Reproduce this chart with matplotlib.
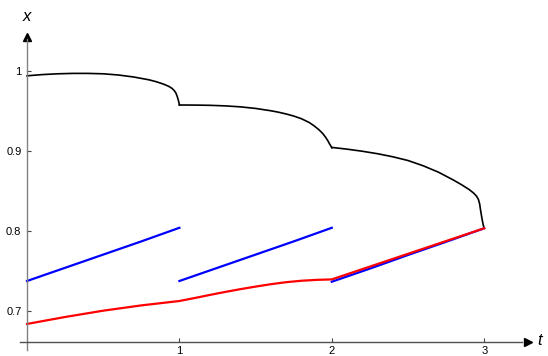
import numpy as np
import matplotlib
matplotlib.use('Agg')
import matplotlib.pyplot as plt

plt.rcParams['font.family'] = ['Liberation Sans', 'DejaVu Sans']

# black curve, three pieces (t, x)
black_t1 = [0.0, 0.1, 0.2, 0.3, 0.4, 0.5, 0.6, 0.7, 0.8, 0.85, 0.9, 0.93, 0.95, 0.965, 0.977, 0.986, 0.993, 0.998, 1.0]
black_x1 = [0.994, 0.9955, 0.9965, 0.997, 0.997, 0.9965, 0.995, 0.9925, 0.989, 0.9865, 0.9833, 0.9808, 0.9785, 0.9758, 0.9725, 0.968, 0.9635, 0.9595, 0.9575]
black_t2 = [1.0, 1.1, 1.2, 1.3, 1.4, 1.5, 1.6, 1.65, 1.7, 1.75, 1.8, 1.85, 1.88, 1.91, 1.94, 1.96, 1.975, 1.985, 1.993, 2.0]
black_x2 = [0.9575, 0.9574, 0.9571, 0.9564, 0.9552, 0.9532, 0.9503, 0.9485, 0.9463, 0.9437, 0.9404, 0.9358, 0.932, 0.9275, 0.922, 0.917, 0.9125, 0.909, 0.9065, 0.904]
black_t3 = [2.0, 2.1, 2.2, 2.3, 2.4, 2.5, 2.6, 2.7, 2.8, 2.85, 2.9, 2.93, 2.95, 2.962, 2.97, 2.977, 2.985, 2.993, 3.0]
black_x3 = [0.9045, 0.9023, 0.8997, 0.8966, 0.8928, 0.8881, 0.8815, 0.8735, 0.8635, 0.858, 0.852, 0.8475, 0.8435, 0.8395, 0.834, 0.825, 0.816, 0.808, 0.8034]

# blue pieces
blue_t1 = [0.0, 0.25, 0.5, 0.75, 1.0]
blue_x1 = [0.7375, 0.754, 0.7705, 0.787, 0.804]
blue_t2 = [1.0, 1.25, 1.5, 1.75, 2.0]
blue_x2 = [0.7375, 0.754, 0.7705, 0.787, 0.804]
blue_t3 = [2.0, 2.25, 2.5, 2.75, 3.0]
blue_x3 = [0.7366, 0.753, 0.770, 0.7865, 0.8034]

# red curve
red_t = [0.0, 0.25, 0.5, 0.75, 1.0, 1.1, 1.2, 1.3, 1.4, 1.5, 1.6, 1.7, 1.8, 1.9, 2.0, 2.5, 3.0]
red_x = [0.6838, 0.6925, 0.7004, 0.707, 0.7125, 0.7162, 0.7201, 0.7238, 0.7273, 0.7305, 0.7335, 0.736, 0.7378, 0.7389, 0.7395, 0.7715, 0.8034]

yticks = [0.7, 0.8, 0.9, 1.0]
ytick_labels = ['0.7', '0.8', '0.9', '1']
xticks = [1, 2, 3]

fig = plt.figure(figsize=(5.48, 3.56), dpi=100)
ax = fig.add_axes([0, 0, 1, 1])
ax.set_xlim(-27/152.4, 521/152.4)
ax.set_ylim(1 - 285/800., 1 + 71/800.)

x_axis_y = 0.66125
ax.spines['top'].set_visible(False)
ax.spines['right'].set_visible(False)
ax.spines['left'].set_position(('data', 0))
ax.spines['bottom'].set_position(('data', x_axis_y))
ax.spines['left'].set_bounds(0.651, 1.04)
ax.spines['bottom'].set_bounds(-0.046, 3.25)
ax.spines['left'].set_color('#808080')
ax.spines['bottom'].set_color('#505050')
ax.spines['left'].set_linewidth(1.0)
ax.spines['bottom'].set_linewidth(1.0)

# arrow heads
ax.plot([0], [1.043], marker='^', ms=6, color='black', clip_on=False)
ax.plot([3.29], [x_axis_y], marker='>', ms=6, color='black', clip_on=False)

ax.set_yticks(yticks)
ax.set_yticklabels(ytick_labels)
ax.set_xticks(xticks)
ax.tick_params(direction='in', length=3, width=0.8, labelsize=8, color='#444444')
ax.tick_params(axis='y', pad=4)
ax.tick_params(axis='x', pad=3)

ax.text(0, 1.068, 'x', style='italic', fontsize=12, ha='center', va='center')
ax.text(3.36, x_axis_y + 0.002, 't', style='italic', fontsize=12, ha='center', va='center')

for tt, xx in [(black_t1, black_x1), (black_t2, black_x2), (black_t3, black_x3)]:
    ax.plot(tt, xx, color='black', lw=1.2)
for tt, xx in [(blue_t1, blue_x1), (blue_t2, blue_x2), (blue_t3, blue_x3)]:
    ax.plot(tt, xx, color='blue', lw=1.6)
ax.plot(red_t, red_x, color='red', lw=1.6)

plt.savefig('out.png', dpi=100)
